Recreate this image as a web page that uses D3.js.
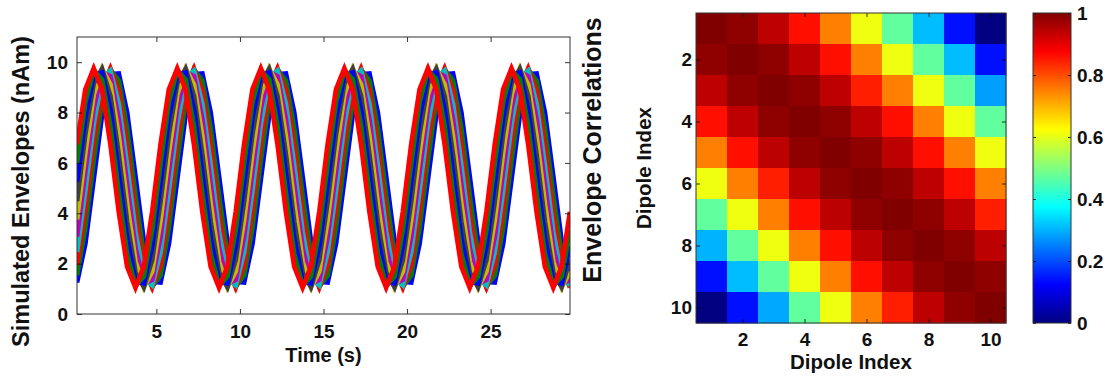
<!DOCTYPE html>
<html>
<head>
<meta charset="utf-8">
<script src="https://cdn.jsdelivr.net/npm/d3@7"></script>
<style>
  body { margin: 0; background: #fff; }
  svg text { font-family: "Liberation Sans", Arial, Helvetica, sans-serif; font-weight: bold; fill: #111; }
</style>
</head>
<body>
<svg id="fig" width="1115" height="383"></svg>
<script>
// sample times of the simulated envelopes (s)
const sampleTimes = [0.25, 0.75, 1.25, 1.75, 2.25, 2.75, 3.25, 3.75, 4.25, 4.75,
  5.25, 5.75, 6.25, 6.75, 7.25, 7.75, 8.25, 8.75, 9.25, 9.75,
  10.25, 10.75, 11.25, 11.75, 12.25, 12.75, 13.25, 13.75, 14.25, 14.75,
  15.25, 15.75, 16.25, 16.75, 17.25, 17.75, 18.25, 18.75, 19.25, 19.75,
  20.25, 20.75, 21.25, 21.75, 22.25, 22.75, 23.25, 23.75, 24.25, 24.75,
  25.25, 25.75, 26.25, 26.75, 27.25, 27.75, 28.25, 28.75, 29.25, 29.75];

// envelope amplitude (nAm) of each dipole at the sample times
const dipole1 = [1.25, 2.80, 5.35, 7.91, 9.52, 9.55, 8.00, 5.46, 2.89, 1.28,
  1.25, 2.80, 5.35, 7.91, 9.52, 9.55, 8.00, 5.46, 2.89, 1.28,
  1.25, 2.80, 5.35, 7.91, 9.52, 9.55, 8.00, 5.46, 2.89, 1.28,
  1.25, 2.80, 5.35, 7.91, 9.52, 9.55, 8.00, 5.46, 2.89, 1.28,
  1.25, 2.80, 5.35, 7.91, 9.52, 9.55, 8.00, 5.46, 2.89, 1.28,
  1.25, 2.80, 5.35, 7.91, 9.52, 9.55, 8.00, 5.46, 2.89, 1.28];
const dipole2 = [1.54, 3.45, 6.11, 8.50, 9.70, 9.26, 7.35, 4.69, 2.31, 1.10,
  1.54, 3.45, 6.11, 8.50, 9.70, 9.26, 7.35, 4.69, 2.31, 1.10,
  1.54, 3.45, 6.11, 8.50, 9.70, 9.26, 7.35, 4.69, 2.31, 1.10,
  1.54, 3.45, 6.11, 8.50, 9.70, 9.26, 7.35, 4.69, 2.31, 1.10,
  1.54, 3.45, 6.11, 8.50, 9.70, 9.26, 7.35, 4.69, 2.31, 1.10,
  1.54, 3.45, 6.11, 8.50, 9.70, 9.26, 7.35, 4.69, 2.31, 1.10];
const dipole3 = [1.95, 4.16, 6.85, 8.98, 9.75, 8.85, 6.64, 3.95, 1.82, 1.05,
  1.95, 4.16, 6.85, 8.98, 9.75, 8.85, 6.64, 3.95, 1.82, 1.05,
  1.95, 4.16, 6.85, 8.98, 9.75, 8.85, 6.64, 3.95, 1.82, 1.05,
  1.95, 4.16, 6.85, 8.98, 9.75, 8.85, 6.64, 3.95, 1.82, 1.05,
  1.95, 4.16, 6.85, 8.98, 9.75, 8.85, 6.64, 3.95, 1.82, 1.05,
  1.95, 4.16, 6.85, 8.98, 9.75, 8.85, 6.64, 3.95, 1.82, 1.05];
const dipole4 = [2.46, 4.91, 7.54, 9.36, 9.66, 8.34, 5.89, 3.26, 1.44, 1.14,
  2.46, 4.91, 7.54, 9.36, 9.66, 8.34, 5.89, 3.26, 1.44, 1.14,
  2.46, 4.91, 7.54, 9.36, 9.66, 8.34, 5.89, 3.26, 1.44, 1.14,
  2.46, 4.91, 7.54, 9.36, 9.66, 8.34, 5.89, 3.26, 1.44, 1.14,
  2.46, 4.91, 7.54, 9.36, 9.66, 8.34, 5.89, 3.26, 1.44, 1.14,
  2.46, 4.91, 7.54, 9.36, 9.66, 8.34, 5.89, 3.26, 1.44, 1.14];
const dipole5 = [3.07, 5.67, 8.17, 9.61, 9.44, 7.73, 5.13, 2.63, 1.19, 1.36,
  3.07, 5.67, 8.17, 9.61, 9.44, 7.73, 5.13, 2.63, 1.19, 1.36,
  3.07, 5.67, 8.17, 9.61, 9.44, 7.73, 5.13, 2.63, 1.19, 1.36,
  3.07, 5.67, 8.17, 9.61, 9.44, 7.73, 5.13, 2.63, 1.19, 1.36,
  3.07, 5.67, 8.17, 9.61, 9.44, 7.73, 5.13, 2.63, 1.19, 1.36,
  3.07, 5.67, 8.17, 9.61, 9.44, 7.73, 5.13, 2.63, 1.19, 1.36];
const dipole6 = [3.75, 6.43, 8.72, 9.74, 9.10, 7.05, 4.37, 2.08, 1.06, 1.70,
  3.75, 6.43, 8.72, 9.74, 9.10, 7.05, 4.37, 2.08, 1.06, 1.70,
  3.75, 6.43, 8.72, 9.74, 9.10, 7.05, 4.37, 2.08, 1.06, 1.70,
  3.75, 6.43, 8.72, 9.74, 9.10, 7.05, 4.37, 2.08, 1.06, 1.70,
  3.75, 6.43, 8.72, 9.74, 9.10, 7.05, 4.37, 2.08, 1.06, 1.70,
  3.75, 6.43, 8.72, 9.74, 9.10, 7.05, 4.37, 2.08, 1.06, 1.70];
const dipole7 = [4.48, 7.15, 9.16, 9.73, 8.65, 6.32, 3.65, 1.64, 1.07, 2.16,
  4.48, 7.15, 9.16, 9.73, 8.65, 6.32, 3.65, 1.64, 1.07, 2.16,
  4.48, 7.15, 9.16, 9.73, 8.65, 6.32, 3.65, 1.64, 1.07, 2.16,
  4.48, 7.15, 9.16, 9.73, 8.65, 6.32, 3.65, 1.64, 1.07, 2.16,
  4.48, 7.15, 9.16, 9.73, 8.65, 6.32, 3.65, 1.64, 1.07, 2.16,
  4.48, 7.15, 9.16, 9.73, 8.65, 6.32, 3.65, 1.64, 1.07, 2.16];
const dipole8 = [5.24, 7.82, 9.48, 9.59, 8.09, 5.56, 2.98, 1.32, 1.22, 2.71,
  5.24, 7.82, 9.48, 9.59, 8.09, 5.56, 2.98, 1.32, 1.22, 2.71,
  5.24, 7.82, 9.48, 9.59, 8.09, 5.56, 2.98, 1.32, 1.22, 2.71,
  5.24, 7.82, 9.48, 9.59, 8.09, 5.56, 2.98, 1.32, 1.22, 2.71,
  5.24, 7.82, 9.48, 9.59, 8.09, 5.56, 2.98, 1.32, 1.22, 2.71,
  5.24, 7.82, 9.48, 9.59, 8.09, 5.56, 2.98, 1.32, 1.22, 2.71];
const dipole9 = [6.00, 8.42, 9.68, 9.31, 7.45, 4.80, 2.38, 1.12, 1.49, 3.35,
  6.00, 8.42, 9.68, 9.31, 7.45, 4.80, 2.38, 1.12, 1.49, 3.35,
  6.00, 8.42, 9.68, 9.31, 7.45, 4.80, 2.38, 1.12, 1.49, 3.35,
  6.00, 8.42, 9.68, 9.31, 7.45, 4.80, 2.38, 1.12, 1.49, 3.35,
  6.00, 8.42, 9.68, 9.31, 7.45, 4.80, 2.38, 1.12, 1.49, 3.35,
  6.00, 8.42, 9.68, 9.31, 7.45, 4.80, 2.38, 1.12, 1.49, 3.35];
const dipole10 = [6.74, 8.92, 9.75, 8.92, 6.74, 4.06, 1.88, 1.05, 1.88, 4.06,
  6.74, 8.92, 9.75, 8.92, 6.74, 4.06, 1.88, 1.05, 1.88, 4.06,
  6.74, 8.92, 9.75, 8.92, 6.74, 4.06, 1.88, 1.05, 1.88, 4.06,
  6.74, 8.92, 9.75, 8.92, 6.74, 4.06, 1.88, 1.05, 1.88, 4.06,
  6.74, 8.92, 9.75, 8.92, 6.74, 4.06, 1.88, 1.05, 1.88, 4.06,
  6.74, 8.92, 9.75, 8.92, 6.74, 4.06, 1.88, 1.05, 1.88, 4.06];

const timeTicks = [5, 10, 15, 20, 25];
const envelopeTicks = [0, 2, 4, 6, 8, 10];

// envelope correlation matrix (row = dipole, column = dipole)
const dipoleIndex = [1, 2, 3, 4, 5, 6, 7, 8, 9, 10];
const dipoleTicks = [2, 4, 6, 8, 10];
const correlationMatrix = [
  [1.00, 0.985, 0.94, 0.86, 0.75, 0.61, 0.47, 0.31, 0.14, 0.00],
  [0.985, 1.00, 0.985, 0.94, 0.86, 0.75, 0.61, 0.47, 0.31, 0.14],
  [0.94, 0.985, 1.00, 0.985, 0.94, 0.845, 0.75, 0.61, 0.47, 0.28],
  [0.86, 0.94, 0.985, 1.00, 0.985, 0.94, 0.86, 0.75, 0.61, 0.47],
  [0.75, 0.86, 0.94, 0.985, 1.00, 0.985, 0.94, 0.86, 0.75, 0.61],
  [0.61, 0.75, 0.845, 0.94, 0.985, 1.00, 0.985, 0.94, 0.86, 0.75],
  [0.47, 0.61, 0.75, 0.86, 0.94, 0.985, 1.00, 0.985, 0.94, 0.845],
  [0.30, 0.47, 0.61, 0.75, 0.86, 0.94, 0.985, 1.00, 0.985, 0.94],
  [0.14, 0.31, 0.47, 0.61, 0.75, 0.86, 0.94, 0.985, 1.00, 0.985],
  [0.00, 0.14, 0.29, 0.47, 0.61, 0.75, 0.845, 0.94, 0.985, 1.00]
];
const colorbarTicks = [0, 0.2, 0.4, 0.6, 0.8, 1];

// matlab default line colour order and jet colormap stops
const lineColors = ["#0000ff", "#008000", "#ff0000", "#00bfbf", "#bf00bf", "#bfbf00", "#404040"];
const jetStops = [0, 0.125, 0.375, 0.625, 0.875, 1];
const jetColors = ["#000080", "#0000ff", "#00ffff", "#ffff00", "#ff0000", "#800000"];

const svg = d3.select("#fig");
const jet = d3.scaleLinear().domain(jetStops).range(jetColors).clamp(true);

function tidyAxis(g, size) {
  g.select(".domain").remove();
  g.selectAll(".tick line").attr("stroke", "#000").attr("stroke-width", 0.8);
  g.selectAll(".tick text").style("font-size", size + "px").attr("fill", "#111");
}

// ---- left panel: simulated envelopes ----
const x = d3.scaleLinear().domain([0.25, 29.75]).range([77, 570]);
const y = d3.scaleLinear().domain([0, 11]).range([314, 37]);

svg.append("defs").append("clipPath").attr("id", "clipEnv")
  .append("rect")
  .attr("x", x.range()[0]).attr("y", y.range()[1])
  .attr("width", x.range()[1] - x.range()[0])
  .attr("height", y.range()[0] - y.range()[1]);

const envelopeSeries = [dipole1, dipole2, dipole3, dipole4, dipole5,
  dipole6, dipole7, dipole8, dipole9, dipole10];

const line = d3.line()
  .x((d, i) => x(sampleTimes[i]))
  .y(d => y(d));

const gLines = svg.append("g").attr("clip-path", "url(#clipEnv)");
envelopeSeries.forEach((s, i) => {
  gLines.append("path")
    .datum(s)
    .attr("fill", "none")
    .attr("stroke", lineColors[i % lineColors.length])
    .attr("stroke-width", 4.8)
    .attr("d", line);
});

svg.append("g").attr("transform", `translate(0,${y.range()[0]})`)
  .call(d3.axisBottom(x).tickValues(timeTicks).tickSize(-5).tickSizeOuter(0).tickPadding(11))
  .call(g => tidyAxis(g, 19));
svg.append("g").attr("transform", `translate(0,${y.range()[1]})`)
  .call(d3.axisTop(x).tickValues(timeTicks).tickSize(-5).tickSizeOuter(0).tickFormat(""))
  .call(g => tidyAxis(g, 19));
svg.append("g").attr("transform", `translate(${x.range()[0]},0)`)
  .call(d3.axisLeft(y).tickValues(envelopeTicks).tickSize(-5).tickSizeOuter(0).tickPadding(9))
  .call(g => tidyAxis(g, 19));
svg.append("g").attr("transform", `translate(${x.range()[1]},0)`)
  .call(d3.axisRight(y).tickValues(envelopeTicks).tickSize(-5).tickSizeOuter(0).tickFormat(""))
  .call(g => tidyAxis(g, 19));

svg.append("rect")
  .attr("x", x.range()[0]).attr("y", y.range()[1])
  .attr("width", x.range()[1] - x.range()[0])
  .attr("height", y.range()[0] - y.range()[1])
  .attr("fill", "none").attr("stroke", "#333").attr("stroke-width", 1);

svg.append("text")
  .attr("x", (x.range()[0] + x.range()[1]) / 2)
  .attr("y", 362)
  .attr("text-anchor", "middle")
  .style("font-size", "20px")
  .text("Time (s)");

svg.append("text")
  .attr("transform", `translate(29,${(y.range()[0] + y.range()[1]) / 2 + 16}) rotate(-90)`)
  .attr("text-anchor", "middle")
  .style("font-size", "23.5px")
  .text("Simulated Envelopes (nAm)");

// ---- right panel: envelope correlations ----
const hx = d3.scaleLinear().domain([0.5, 10.5]).range([696, 1006]);
const hy = d3.scaleLinear().domain([0.5, 10.5]).range([13, 323]);

const cells = [];
correlationMatrix.forEach((row, r) => row.forEach((v, c) => {
  cells.push({ row: dipoleIndex[r], col: dipoleIndex[c], value: v });
}));

svg.append("g").selectAll("rect")
  .data(cells)
  .join("rect")
  .attr("x", d => hx(d.col - 0.5))
  .attr("y", d => hy(d.row - 0.5))
  .attr("width", hx(1.5) - hx(0.5) + 0.5)
  .attr("height", hy(1.5) - hy(0.5) + 0.5)
  .attr("fill", d => jet(d.value));

svg.append("g").attr("transform", `translate(0,${hy.range()[1]})`)
  .call(d3.axisBottom(hx).tickValues(dipoleTicks).tickSize(-4).tickSizeOuter(0).tickPadding(10))
  .call(g => tidyAxis(g, 19));
svg.append("g").attr("transform", `translate(0,${hy.range()[0]})`)
  .call(d3.axisTop(hx).tickValues(dipoleTicks).tickSize(-4).tickSizeOuter(0).tickFormat(""))
  .call(g => tidyAxis(g, 19));
svg.append("g").attr("transform", `translate(${hx.range()[0]},0)`)
  .call(d3.axisLeft(hy).tickValues(dipoleTicks).tickSize(-4).tickSizeOuter(0).tickPadding(4))
  .call(g => tidyAxis(g, 19));
svg.append("g").attr("transform", `translate(${hx.range()[1]},0)`)
  .call(d3.axisRight(hy).tickValues(dipoleTicks).tickSize(-4).tickSizeOuter(0).tickFormat(""))
  .call(g => tidyAxis(g, 19));

svg.append("rect")
  .attr("x", hx.range()[0]).attr("y", hy.range()[0])
  .attr("width", hx.range()[1] - hx.range()[0])
  .attr("height", hy.range()[1] - hy.range()[0])
  .attr("fill", "none").attr("stroke", "#333").attr("stroke-width", 1);

svg.append("text")
  .attr("x", (hx.range()[0] + hx.range()[1]) / 2)
  .attr("y", 369)
  .attr("text-anchor", "middle")
  .style("font-size", "20.5px")
  .text("Dipole Index");

svg.append("text")
  .attr("transform", `translate(651,${(hy.range()[0] + hy.range()[1]) / 2}) rotate(-90)`)
  .attr("text-anchor", "middle")
  .style("font-size", "20.5px")
  .text("Dipole Index");

svg.append("text")
  .attr("transform", `translate(601,150) rotate(-90)`)
  .attr("text-anchor", "middle")
  .style("font-size", "25px")
  .text("Envelope Correlations");

// ---- colorbar ----
const cy = d3.scaleLinear().domain([0, 1]).range([323, 13]);
const cbLeft = 1033, cbRight = 1071;

const grad = svg.select("defs").append("linearGradient")
  .attr("id", "jetGrad")
  .attr("x1", 0).attr("y1", 1).attr("x2", 0).attr("y2", 0);
grad.selectAll("stop")
  .data(jetStops)
  .join("stop")
  .attr("offset", d => d)
  .attr("stop-color", d => jet(d));

svg.append("rect")
  .attr("x", cbLeft).attr("y", cy(1))
  .attr("width", cbRight - cbLeft).attr("height", cy(0) - cy(1))
  .attr("fill", "url(#jetGrad)");

svg.append("g").attr("transform", `translate(${cbRight},0)`)
  .call(d3.axisRight(cy).tickValues(colorbarTicks).tickSize(-3).tickSizeOuter(0).tickPadding(6)
    .tickFormat(d => String(+d.toFixed(1))))
  .call(g => tidyAxis(g, 19));
svg.append("g").attr("transform", `translate(${cbLeft},0)`)
  .call(d3.axisLeft(cy).tickValues(colorbarTicks).tickSize(-3).tickSizeOuter(0).tickFormat(""))
  .call(g => tidyAxis(g, 19));

svg.append("rect")
  .attr("x", cbLeft).attr("y", cy(1))
  .attr("width", cbRight - cbLeft).attr("height", cy(0) - cy(1))
  .attr("fill", "none").attr("stroke", "#333").attr("stroke-width", 1);
</script>
</body>
</html>
